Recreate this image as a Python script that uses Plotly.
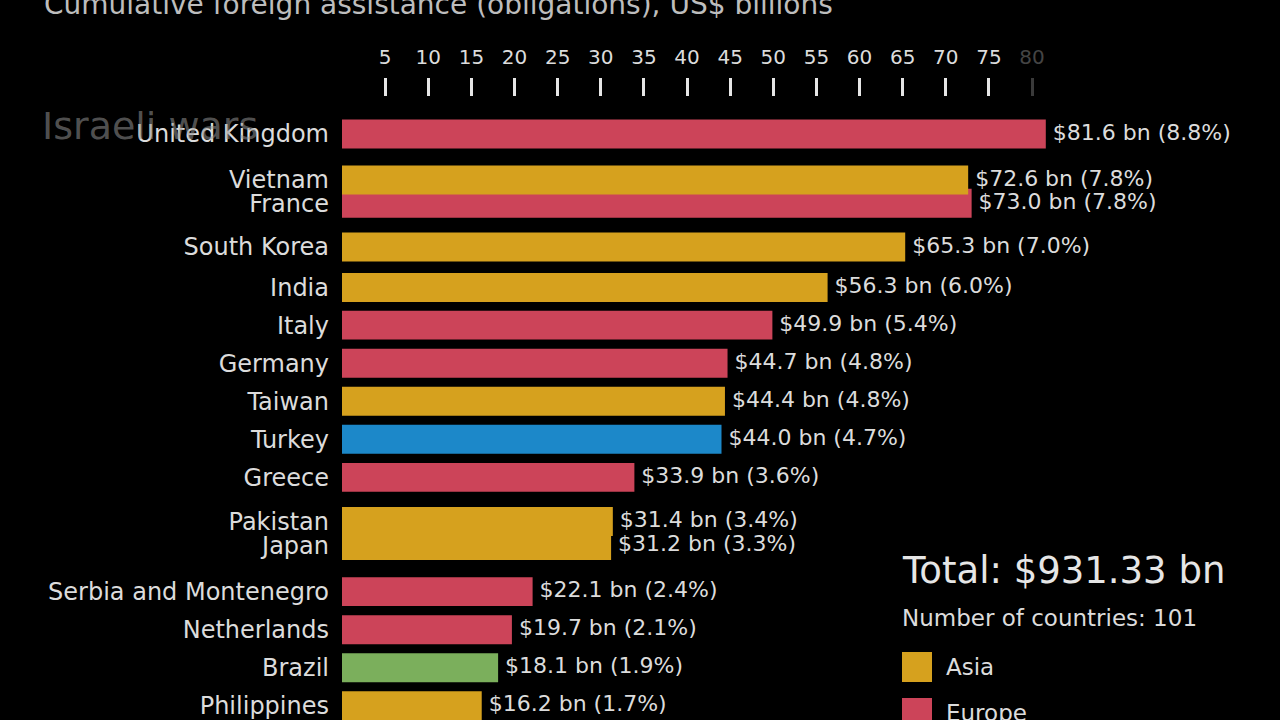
import plotly.graph_objects as go

# ---- data ----
countries = ["United Kingdom", "Vietnam", "France", "South Korea", "India", "Italy",
             "Germany", "Taiwan", "Turkey", "Greece", "Pakistan", "Japan",
             "Serbia and Montenegro", "Netherlands", "Brazil", "Philippines"]
regions = ["Europe", "Asia", "Europe", "Asia", "Asia", "Europe",
           "Europe", "Asia", "Middle East", "Europe", "Asia", "Asia",
           "Europe", "Europe", "Americas", "Asia"]
values = [81.6, 72.6, 73.0, 65.3, 56.3, 49.9, 44.7, 44.4, 44.0, 33.9, 31.4, 31.2,
          22.1, 19.7, 18.1, 16.2]
shares = [8.8, 7.8, 7.8, 7.0, 6.0, 5.4, 4.8, 4.8, 4.7, 3.6, 3.4, 3.3,
          2.4, 2.1, 1.9, 1.7]
# interpolated rank positions (frame taken mid-transition)
ranks = [1.0, 2.21, 2.82, 3.97, 5.03, 6.02, 7.02, 8.02, 9.02, 10.02, 11.18, 11.81,
         13.02, 14.02, 15.02, 16.02]
tick_values = [5, 10, 15, 20, 25, 30, 35, 40, 45, 50, 55, 60, 65, 70, 75]
total = 931.33
n_countries = 101
period = "Israeli wars"
legend_items = ["Asia", "Europe"]

region_colors = {"Asia": "#D6A11E", "Europe": "#CC4459",
                 "Middle East": "#1C88C9", "Americas": "#7BAF5C"}

FONT = "DejaVu Sans"
TXT = "#DCDCDC"

# draw order: Vietnam on top of France overlap region
order = list(range(len(countries)))
order.remove(1)
order.insert(3, 1)

fig = go.Figure()
fig.add_trace(go.Bar(
    x=[values[i] for i in order],
    y=[ranks[i] for i in order],
    orientation="h",
    width=0.76,
    marker=dict(color=[region_colors[regions[i]] for i in order], line=dict(width=0)),
    hoverinfo="skip",
    showlegend=False,
))
fig.add_trace(go.Scatter(
    x=values, y=ranks, mode="text",
    text=[" $%.1f bn (%.1f%%)" % (v, s) for v, s in zip(values, shares)],
    textposition="middle right",
    textfont=dict(family=FONT, size=22, color=TXT),
    cliponaxis=False, hoverinfo="skip", showlegend=False,
))
# faded 80 tick on an overlaid axis
fig.add_trace(go.Scatter(x=[80], y=[None], xaxis="x2", mode="markers",
                         showlegend=False, hoverinfo="skip"))

L, T = 342, 97
W, H = 1280, 720
pw, ph = W - L, H - T
ppu_x = 8.625
xmax = pw / ppu_x
row = 38.07
r_top = 1 - (134 - T) / row
r_bot = r_top + ph / row

def px(x):
    return (x - L) / pw

def py(y):
    return (H - y) / ph

axis_common = dict(range=[0, xmax], side="top", showgrid=False, zeroline=False,
                   showline=False, ticks="outside", ticklen=18, tickwidth=3,
                   ticklabelstandoff=6)
fig.update_layout(
    width=W, height=H,
    margin=dict(l=L, r=0, t=T, b=0),
    paper_bgcolor="black", plot_bgcolor="black",
    barmode="overlay",
    xaxis=dict(tickvals=tick_values, tickcolor="#E6E6E6",
               tickfont=dict(family=FONT, size=20, color=TXT), **axis_common),
    xaxis2=dict(overlaying="x", tickvals=[80], tickcolor="#3A3A3A",
                tickfont=dict(family=FONT, size=20, color="#444444"), **axis_common),
    yaxis=dict(range=[r_bot, r_top], tickvals=ranks, ticktext=countries,
               showgrid=False, zeroline=False, showline=False, ticks="",
               ticklabelstandoff=12, ticklabeloverflow="allow",
               tickfont=dict(family=FONT, size=24, color=TXT)),
)

ann = [
    dict(text="Cumulative foreign assistance (obligations), US$ billions",
         x=px(42), y=py(5), xanchor="left", yanchor="middle",
         font=dict(family=FONT, size=28, color="#BDBDBD")),
    dict(text=period, x=px(40), y=py(126), xanchor="left", yanchor="middle",
         font=dict(family=FONT, size=38, color="rgba(150,150,150,0.55)")),
    dict(text="Total: $%.2f bn" % total, x=px(900), y=py(570), xanchor="left", yanchor="middle",
         font=dict(family=FONT, size=37, color="#E6E6E6")),
    dict(text="Number of countries: %d" % n_countries, x=px(900), y=py(618),
         xanchor="left", yanchor="middle",
         font=dict(family=FONT, size=23, color=TXT)),
]
shapes = []
for k, name in enumerate(legend_items):
    top = 652 + 46 * k
    shapes.append(dict(type="rect", xref="paper", yref="paper",
                       x0=px(902), x1=px(932), y0=py(top + 30), y1=py(top),
                       fillcolor=region_colors[name], line=dict(width=0)))
    ann.append(dict(text=name, x=px(944), y=py(top + 15), xanchor="left", yanchor="middle",
                    font=dict(family=FONT, size=23, color=TXT)))
for a in ann:
    a.update(xref="paper", yref="paper", showarrow=False)
fig.update_layout(annotations=ann, shapes=shapes)

fig.write_html("out.html",
               config={"displayModeBar": False},
               post_script="document.body.style.margin='0';"
                           "document.body.style.background='black';"
                           "document.body.style.overflow='hidden';")
